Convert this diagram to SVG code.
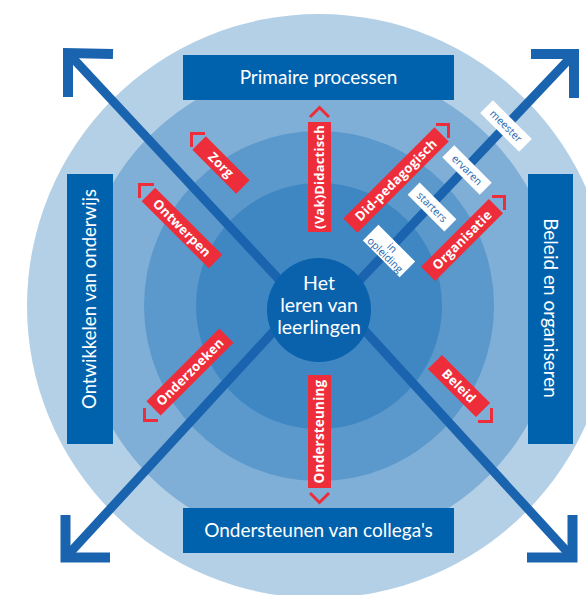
<svg xmlns="http://www.w3.org/2000/svg" width="586" height="595" viewBox="0 0 586 595">
<style>
.box{fill:#0062ad}
.bt{font-family:Lato,"Open Sans",sans-serif;font-size:19px;fill:#fff;text-anchor:middle}
.ct{font-family:Lato,"Open Sans",sans-serif;font-size:19.5px;fill:#fff;text-anchor:middle}
.red{fill:#ee2d3a}
.rt{font-family:"Open Sans",sans-serif;font-weight:700;font-size:13px;fill:#fff;text-anchor:middle;letter-spacing:0.2px}
.chev{fill:none;stroke:#ee2d3a;stroke-width:3;stroke-linejoin:miter}
.wl{fill:#fff}
.wt{font-family:"Open Sans",sans-serif;font-size:10.5px;fill:#1d66b0;text-anchor:middle}
.line{stroke:#1a63ae;stroke-width:9;fill:none}
.head{stroke:#1a63ae;stroke-width:10;fill:none;stroke-linejoin:miter;stroke-linecap:butt}
</style>
<g id="rings">
<circle cx="319" cy="306" r="292" fill="#b4d0e6"/>
<circle cx="319" cy="306" r="240" fill="#7faed6"/>
<circle cx="319" cy="306" r="175" fill="#5b98cb"/>
<circle cx="319" cy="306" r="123" fill="#3f87c2"/>
</g>
<g id="connectors">
<line class="line" x1="69" y1="54" x2="300" y2="302"/>
<polyline class="head" points="113,54 68,53 68,97"/>
<line class="line" x1="573" y1="55" x2="340" y2="301"/>
<polyline class="head" points="531,54 574,54 574,98"/>
<line class="line" x1="66" y1="557" x2="295" y2="308"/>
<polyline class="head" points="65.5,515 65.5,557.5 110,557.5"/>
<line class="line" x1="572" y1="557" x2="345" y2="309"/>
<polyline class="head" points="572.5,515 572.5,557.5 527,557.5"/>
</g>
<g id="center">
<circle cx="319" cy="310" r="52" fill="#0a62ad"/>
<text class="ct" x="319" y="290">Het</text>
<text class="ct" x="319" y="312">leren van</text>
<text class="ct" x="319" y="334">leerlingen</text>
</g>
<g id="primaire">
<rect class="box" x="183" y="55" width="271" height="45"/>
<text class="bt" x="318.5" y="77.5" dy=".35em">Primaire processen</text>
</g>
<g id="ondersteunen">
<rect class="box" x="183" y="508" width="271" height="45"/>
<text class="bt" x="318.5" y="530" dy=".35em">Ondersteunen van collega's</text>
</g>
<g id="ontwikkelen">
<rect class="box" x="67" y="174" width="46" height="270"/>
<text class="bt" style="font-size:18.5px" transform="translate(90,299) rotate(-90)" dy=".35em">Ontwikkelen van onderwijs</text>
</g>
<g id="beleid-organiseren">
<rect class="box" x="528" y="174" width="45" height="270"/>
<text class="bt" transform="translate(550.5,308) rotate(90)" dy=".35em">Beleid en organiseren</text>
</g>
<g id="vakdidactisch">
<rect class="red" x="308" y="122" width="23" height="110"/>
<text class="rt" transform="translate(319.5,177) rotate(-90)" dy=".35em">(Vak)Didactisch</text>
<polyline class="chev" points="310,117 319.5,107.5 329,117"/>
</g>
<g id="ondersteuning">
<rect class="red" x="308" y="375" width="23" height="113"/>
<text class="rt" style="font-size:13.5px" transform="translate(319.5,431.5) rotate(-90)" dy=".35em">Ondersteuning</text>
<polyline class="chev" points="310,493 319.5,502.5 329,493"/>
</g>
<g id="zorg">
<g transform="translate(221,165) rotate(45)">
<rect class="red" x="-31" y="-9.5" width="62" height="19"/>
<text class="rt" dy=".35em">Zorg</text>
</g>
<polyline class="chev" points="205,133.5 191.5,133.5 191.5,147"/>
</g>
<g id="ontwerpen">
<g transform="translate(182,228) rotate(45)">
<rect class="red" x="-47.5" y="-9.5" width="95" height="19"/>
<text class="rt" dy=".35em">Ontwerpen</text>
</g>
<polyline class="chev" points="154,184.5 139.5,184.5 139.5,198"/>
</g>
<g id="did-pedagogisch">
<g transform="translate(396,180) rotate(-45)">
<rect class="red" x="-64.5" y="-10" width="129" height="20"/>
<text class="rt" dy=".35em">Did-pedagogisch</text>
</g>
<polyline class="chev" points="436,124.5 448.5,124.5 448.5,138"/>
</g>
<g id="organisatie">
<g transform="translate(462,240) rotate(-45)">
<rect class="red" x="-48" y="-10" width="96" height="20"/>
<text class="rt" dy=".35em">Organisatie</text>
</g>
<polyline class="chev" points="492,196.5 504.5,196.5 504.5,210"/>
</g>
<g id="onderzoeken">
<g transform="translate(190,372) rotate(-45)">
<rect class="red" x="-51.5" y="-10" width="103" height="20"/>
<text class="rt" dy=".35em">Onderzoeken</text>
</g>
<polyline class="chev" points="144.5,408 144.5,420.5 158,420.5"/>
</g>
<g id="beleid">
<g transform="translate(459,386) rotate(45)">
<rect class="red" x="-34" y="-10" width="68" height="20"/>
<text class="rt" dy=".35em">Beleid</text>
</g>
<polyline class="chev" points="491.5,408 491.5,421.5 478,421.5"/>
</g>
<g id="meester" transform="translate(506,126) rotate(45)">
<rect class="wl" x="-27.5" y="-9" width="55" height="18"/>
<text class="wt" dy=".35em">meester</text>
</g>
<g id="ervaren" transform="translate(467,170) rotate(45)">
<rect class="wl" x="-26.5" y="-8.5" width="53" height="17"/>
<text class="wt" dy=".35em">ervaren</text>
</g>
<g id="starters" transform="translate(432,207) rotate(45)">
<rect class="wl" x="-26" y="-8.5" width="52" height="17"/>
<text class="wt" dy=".35em">starters</text>
</g>
<g id="in-opleiding" transform="translate(389,251) rotate(45)">
<rect class="wl" x="-26" y="-11" width="52" height="22"/>
<text class="wt" y="-4.5" dy=".35em">in</text>
<text class="wt" y="5.5" dy=".35em">opleiding</text>
</g>
</svg>
